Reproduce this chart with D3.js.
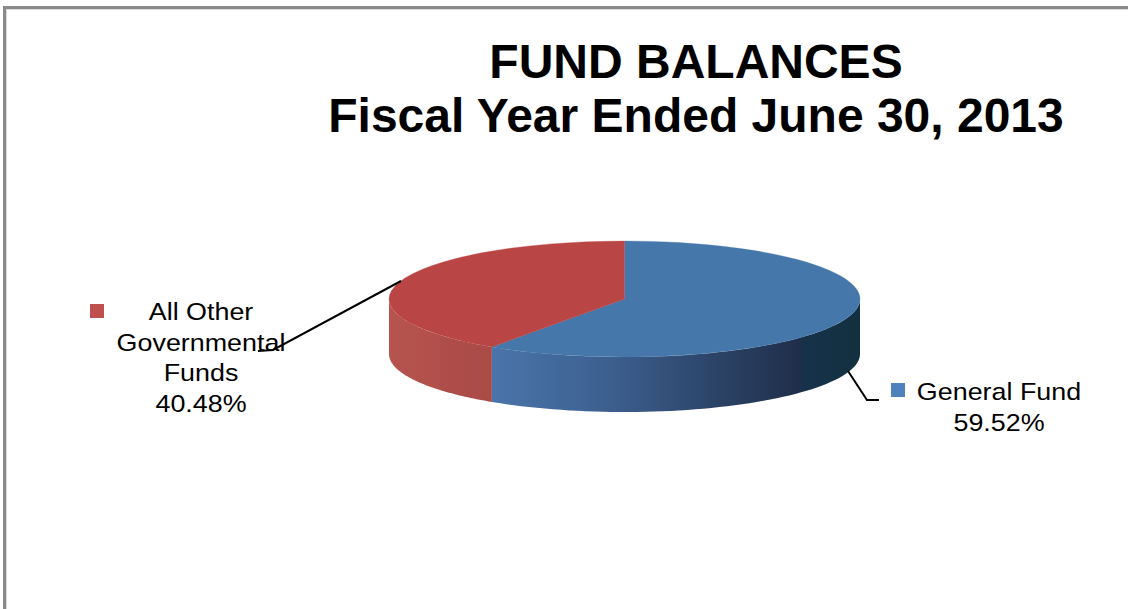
<!DOCTYPE html>
<html>
<head>
<meta charset="utf-8">
<script src="https://cdn.jsdelivr.net/npm/d3@7"></script>
<style>
  body { margin: 0; background: #fff; }
  svg { display: block; font-family: Arial, "Liberation Sans", sans-serif; }
</style>
</head>
<body>
<svg id="chart" width="1128" height="609"></svg>
<script>
// data
var categories = ["General Fund", "All Other Governmental Funds"];
var shares = [59.52, 40.48];
var labelNames = [["General Fund"], ["All Other", "Governmental", "Funds"]];
var titleLines = ["FUND BALANCES", "Fiscal Year Ended June 30, 2013"];
var topColors = ["#4577aa", "#b94644"];

var svg = d3.select("#chart"),
    width = +svg.attr("width"),
    height = +svg.attr("height");

// frame
svg.append("path")
    .attr("d", "M4.5," + height + "V7.5H" + width)
    .attr("fill", "none")
    .attr("stroke", "#8a8a8a")
    .attr("stroke-width", 3);
svg.append("path")
    .attr("d", "M6.5," + height + "V9.5H" + width)
    .attr("fill", "none")
    .attr("stroke", "#d8d8d8")
    .attr("stroke-width", 1);

// title
svg.append("g").selectAll("text")
    .data(titleLines)
    .enter().append("text")
    .attr("x", 696)
    .attr("y", function(d, i) { return 78 + i * 54; })
    .attr("text-anchor", "middle")
    .attr("font-size", 48)
    .attr("font-weight", "bold")
    .attr("fill", "#000")
    .text(function(d) { return d; });

// pie geometry
var cx = 624.5, cy = 299, rx = 235.5, ry = 58, depth = 55;

var pie = d3.pie().sort(null).value(function(d) { return d; });
var arcs = pie(shares);

var defs = svg.append("defs");
var gBlue = defs.append("linearGradient")
    .attr("id", "wallBlue")
    .attr("gradientUnits", "userSpaceOnUse")
    .attr("x1", 491).attr("x2", cx + rx).attr("y1", 0).attr("y2", 0);
[[0, "#4a75ab"], [0.35, "#3b5d8c"], [0.6, "#2c4468"], [0.84, "#1f2e4a"], [0.845, "#16324a"], [1, "#133040"]]
    .forEach(function(s) { gBlue.append("stop").attr("offset", s[0]).attr("stop-color", s[1]); });
var gRed = defs.append("linearGradient")
    .attr("id", "wallRed")
    .attr("gradientUnits", "userSpaceOnUse")
    .attr("x1", cx - rx).attr("x2", 491).attr("y1", 0).attr("y2", 0);
[[0, "#b65450"], [0.5, "#b24f4b"], [0.5, "#ae4d49"], [1, "#ab4b47"]]
    .forEach(function(s) { gRed.append("stop").attr("offset", s[0]).attr("stop-color", s[1]); });
var wallFills = ["url(#wallBlue)", "url(#wallRed)"];

function pt(a, dy) {
    return [cx + rx * Math.sin(a), cy + dy - ry * Math.cos(a)];
}

// outer wall of a slice, only the part facing the viewer
function wallPath(d) {
    var a0 = Math.max(d.startAngle, Math.PI / 2),
        a1 = Math.min(d.endAngle, 3 * Math.PI / 2);
    if (a1 <= a0) return null;
    var n = 60, top = [], bottom = [];
    for (var i = 0; i <= n; i++) {
        var a = a0 + (a1 - a0) * i / n;
        top.push(pt(a, 0));
        bottom.push(pt(a, depth));
    }
    return d3.line()(top.concat(bottom.reverse())) + "Z";
}

svg.append("g")
    .attr("class", "walls")
    .selectAll("path")
    .data(arcs)
    .enter().append("path")
    .attr("d", wallPath)
    .attr("fill", function(d, i) { return wallFills[i]; });

var arc = d3.arc().innerRadius(0).outerRadius(rx);
svg.append("g")
    .attr("class", "tops")
    .attr("transform", "translate(" + cx + "," + cy + ") scale(1," + (ry / rx) + ")")
    .selectAll("path")
    .data(arcs)
    .enter().append("path")
    .attr("d", arc)
    .attr("fill", function(d, i) { return topColors[i]; })
    .attr("stroke", function(d, i) { return topColors[i]; })
    .attr("stroke-width", 0.5);

// leader lines
var leaders = [
    [[848, 371], [867, 400], [879, 400]],
    [[401, 281], [273, 350], [258, 351]]
];
svg.append("g")
    .selectAll("path")
    .data(leaders)
    .enter().append("path")
    .attr("d", d3.line())
    .attr("fill", "none")
    .attr("stroke", "#000")
    .attr("stroke-width", 2);

// data labels (text in the reference is a bit wider than plain Arial)
var labelPos = [
    {x: 999, y: 400, sq: [891, 383]},
    {x: 201, y: 320, sq: [90, 304]}
];
var fmt = d3.format(".2f");
var labels = svg.append("g").selectAll("g")
    .data(arcs)
    .enter().append("g");
labels.append("rect")
    .attr("x", function(d, i) { return labelPos[i].sq[0]; })
    .attr("y", function(d, i) { return labelPos[i].sq[1]; })
    .attr("width", 14).attr("height", 14)
    .attr("fill", function(d, i) { return i == 0 ? "#4f81bd" : "#c0504d"; });
labels.each(function(d, i) {
    var lines = labelNames[i].concat([fmt(d.data) + "%"]);
    d3.select(this).selectAll("text")
        .data(lines)
        .enter().append("text")
        .attr("transform", function(t, j) {
            return "translate(" + labelPos[i].x + "," + (labelPos[i].y + j * 30.7) + ") scale(1.12,1)";
        })
        .attr("text-anchor", "middle")
        .attr("font-size", 24)
        .attr("fill", "#000")
        .text(function(t) { return t; });
});
</script>
</body>
</html>
